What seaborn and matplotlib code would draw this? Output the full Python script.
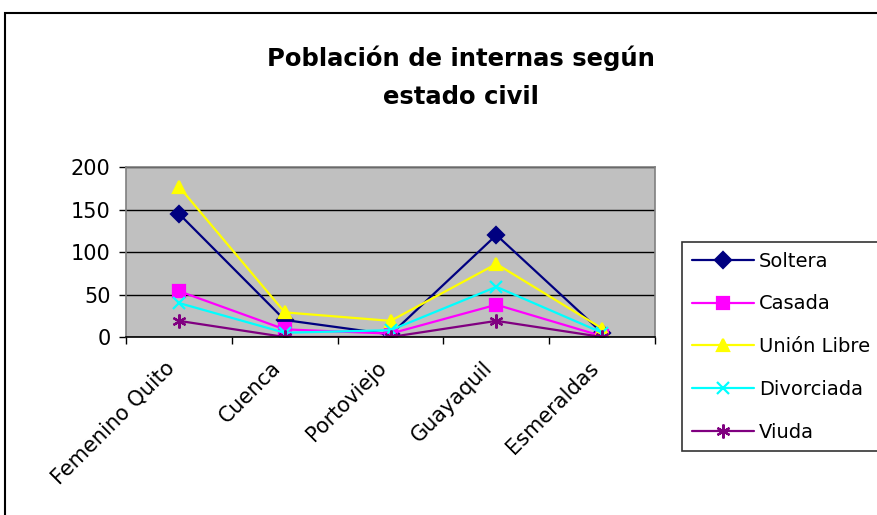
import pandas as pd
import matplotlib
matplotlib.use("Agg")
import matplotlib.pyplot as plt
import seaborn as sns
from matplotlib.patches import Rectangle

# data
ciudades = ["Femenino Quito", "Cuenca", "Portoviejo", "Guayaquil", "Esmeraldas"]
soltera = [145, 20, 3, 120, 5]
casada = [54, 9, 4, 38, 1]
union_libre = [177, 29, 19, 86, 10]
divorciada = [40, 5, 8, 59, 5]
viuda = [19, 0, 0, 19, 0]

series = ["Soltera", "Casada", "Unión Libre", "Divorciada", "Viuda"]
colores = {"Soltera": "#000080", "Casada": "#FF00FF", "Unión Libre": "#FFFF00",
           "Divorciada": "#00FFFF", "Viuda": "#800080"}
marcadores = {"Soltera": "D", "Casada": "s", "Unión Libre": "^",
              "Divorciada": "x", "Viuda": (6, 2, 0)}
tamanos = {"Soltera": 8, "Casada": 8, "Unión Libre": 9, "Divorciada": 9, "Viuda": 10}

df = pd.DataFrame({"ciudad": ciudades, "Soltera": soltera, "Casada": casada,
                   "Unión Libre": union_libre, "Divorciada": divorciada, "Viuda": viuda})
df["pos"] = range(len(ciudades))

sns.set_style("white")
plt.rcParams["font.family"] = ["DejaVu Sans"]
plt.rcParams["text.color"] = "black"
plt.rcParams["xtick.labelcolor"] = "black"
plt.rcParams["ytick.labelcolor"] = "black"

fig = plt.figure(figsize=(8.77, 5.15), dpi=100)
ax = fig.add_axes([0.1437, 0.3456, 0.6033, 0.3301])

handles = []
for s in series:
    sns.lineplot(data=df, x="pos", y=s, color=colores[s], marker=marcadores[s],
                 markersize=tamanos[s], linewidth=1.6, ax=ax, legend=False)
    line = ax.lines[-1]
    line.set_markeredgecolor(colores[s])
    line.set_markerfacecolor(colores[s])
    line.set_markeredgewidth(1.6)
    handles.append(line)

ax.set_facecolor("#C0C0C0")
ax.set_xlim(-0.5, len(ciudades) - 0.5)
ax.set_ylim(0, 200)
ax.set_yticks([0, 50, 100, 150, 200])
ax.yaxis.grid(True, color="black", linewidth=1)
ax.xaxis.grid(False)
ax.set_axisbelow(True)
ax.set_xticks(range(len(ciudades)))
ax.set_xticklabels(ciudades, rotation=45, ha="right")
ax.set_xticks([i - 0.5 for i in range(len(ciudades) + 1)], minor=True)
ax.tick_params(axis="x", which="major", length=0, labelsize=15, pad=15, labelcolor="black")
ax.tick_params(axis="x", which="minor", length=5, width=1, color="black", direction="out", bottom=True)
ax.tick_params(axis="y", length=5, width=1, color="black", direction="out", labelsize=15,
               left=True, pad=6, labelcolor="black")
ax.set_xlabel("")
ax.set_ylabel("")
for side in ["top", "right", "left"]:
    ax.spines[side].set_color("#808080")
ax.spines["bottom"].set_color("black")
for sp in ax.spines.values():
    sp.set_linewidth(1.2)

leg = fig.legend(handles, series, loc="upper left", bbox_to_anchor=(0.7777, 0.530),
                 borderaxespad=0, frameon=True, fancybox=False, edgecolor="black", fontsize=14,
                 handlelength=3.2, labelspacing=1.22, borderpad=0.5, handletextpad=0.25)
leg.get_frame().set_linewidth(1.2)
for t in leg.get_texts():
    t.set_color("black")

fig.text(0.526, 0.85, "Población de internas según\nestado civil", ha="center", va="center",
         fontsize=17.5, fontweight="bold", linespacing=1.7, color="black")

fig.patches.append(Rectangle((0.006, -0.2), 1.5, 1.2 - 13 / 515, transform=fig.transFigure,
                             fill=False, edgecolor="black", linewidth=1.5))

fig.savefig("out.png", dpi=100)
